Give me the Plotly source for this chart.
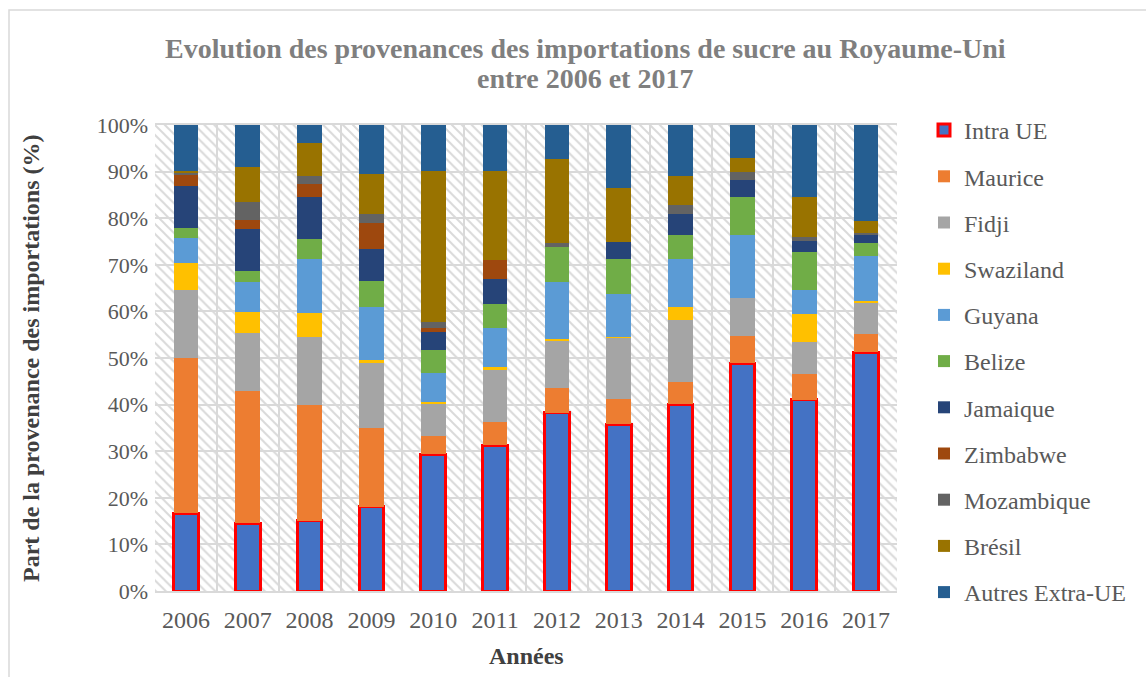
import plotly.graph_objects as go

years = ["2006", "2007", "2008", "2009", "2010", "2011", "2012", "2013", "2014", "2015", "2016", "2017"]

intra_ue   = [16.7, 14.5, 15.1, 18.1, 29.3, 31.3, 38.3, 35.8, 40.1, 48.9, 41.0, 51.2]
maurice    = [33.3, 28.5, 24.8, 16.9, 4.0, 5.0, 5.3, 5.3, 4.8, 5.8, 5.6, 4.0]
fidji      = [14.6, 12.4, 14.7, 14.1, 7.0, 11.3, 10.0, 13.2, 13.3, 8.2, 6.8, 6.6]
swaziland  = [5.7, 4.5, 5.0, 0.4, 0.3, 0.4, 0.5, 0.2, 2.7, 0.0, 6.0, 0.5]
guyana     = [5.5, 6.4, 11.6, 11.5, 6.1, 8.4, 12.3, 9.2, 10.4, 13.6, 5.3, 9.5]
belize     = [2.0, 2.3, 4.4, 5.5, 5.1, 5.1, 7.4, 7.5, 5.1, 8.1, 8.0, 2.8]
jamaique   = [9.1, 9.0, 9.0, 6.9, 3.8, 5.5, 0.0, 3.7, 4.4, 3.7, 2.5, 1.9]
zimbabwe   = [2.4, 2.0, 2.7, 5.5, 0.8, 4.1, 0.0, 0.0, 0.0, 0.0, 0.0, 0.0]
mozambique = [0.4, 3.8, 1.8, 1.9, 1.4, 0.0, 0.9, 0.0, 2.1, 1.6, 0.8, 0.3]
bresil     = [0.5, 7.5, 7.0, 8.7, 32.4, 19.1, 18.1, 11.5, 6.1, 3.0, 8.6, 2.5]
autres     = [9.8, 9.2, 3.9, 10.5, 9.8, 9.8, 7.2, 13.6, 11.0, 7.1, 15.4, 21.0]

title_lines = ["Evolution des provenances des importations de sucre au Royaume-Uni",
               "entre 2006 et 2017"]
x_title = "Années"
y_title = "Part de la provenance des importations (%)"

series = [
    ("Intra UE", intra_ue, "#4472C4"),
    ("Maurice", maurice, "#ED7D31"),
    ("Fidji", fidji, "#A5A5A5"),
    ("Swaziland", swaziland, "#FFC000"),
    ("Guyana", guyana, "#5B9BD5"),
    ("Belize", belize, "#70AD47"),
    ("Jamaique", jamaique, "#264478"),
    ("Zimbabwe", zimbabwe, "#9E480E"),
    ("Mozambique", mozambique, "#636363"),
    ("Brésil", bresil, "#997300"),
    ("Autres Extra-UE", autres, "#255E91"),
]

FONT = "Liberation Serif, Times New Roman, serif"

# plot area in pixels
L, R, T, B = 155, 897, 125, 591
PW, PH = R - L, B - T


def px_x(p):
    return (p - L) / PW


def px_y(p):
    return (B - p) / PH


fig = go.Figure()

# hatched plot-area background (one full-width cell per category)
fig.add_trace(go.Bar(
    x=years, y=[100] * len(years), width=1, xaxis="x", yaxis="y",
    marker=dict(color="rgba(0,0,0,0)", line=dict(width=0),
                pattern=dict(shape="\\", fgcolor="#d9d9d9", bgcolor="rgba(0,0,0,0)",
                             size=7, solidity=0.28, fillmode="replace")),
    showlegend=False, hoverinfo="skip",
))

for name, vals, col in series:
    line = dict(color="#FF0000", width=3) if name == "Intra UE" else dict(width=0)
    fig.add_trace(go.Bar(
        x=years, y=vals, name=name, xaxis="x2", yaxis="y",
        marker=dict(color=col, line=line), legendgroup=name,
    ))

annotations = [
    dict(text="<b>" + title_lines[0] + "</b>", x=px_x(585), y=px_y(48), xref="paper", yref="paper",
         showarrow=False, xanchor="center", yanchor="middle",
         font=dict(family=FONT, size=28, color="#7f7f7f")),
    dict(text="<b>" + title_lines[1] + "</b>", x=px_x(585), y=px_y(78), xref="paper", yref="paper",
         showarrow=False, xanchor="center", yanchor="middle",
         font=dict(family=FONT, size=28, color="#7f7f7f")),
    dict(text="<b>" + x_title + "</b>", x=0.5, y=px_y(656), xref="paper", yref="paper",
         showarrow=False, xanchor="center", yanchor="middle",
         font=dict(family=FONT, size=24, color="#404040")),
    dict(text="<b>" + y_title + "</b>", x=px_x(31), y=0.5, xref="paper", yref="paper",
         showarrow=False, xanchor="center", yanchor="middle", textangle=-90,
         font=dict(family=FONT, size=24, color="#404040")),
]

fig.update_layout(
    width=1146, height=677,
    margin=dict(l=L, r=1146 - R, t=T, b=677 - B, autoexpand=False),
    paper_bgcolor="white", plot_bgcolor="white",
    barmode="stack", bargap=0.6,
    font=dict(family=FONT, size=22, color="#595959"),
    xaxis=dict(
        type="category", categoryorder="array", categoryarray=years,
        range=[-0.5, 11.5], tickson="boundaries", ticks="",
        showgrid=True, gridcolor="#d9d9d9", gridwidth=2,
        showline=True, linecolor="#d9d9d9", linewidth=2, mirror=True,
        tickfont=dict(size=24, color="#595959"), ticklabelstandoff=6,
    ),
    xaxis2=dict(
        type="category", categoryorder="array", categoryarray=years,
        range=[-0.5, 11.5], overlaying="x", showgrid=False, showticklabels=False,
        ticks="", zeroline=False,
    ),
    yaxis=dict(
        range=[0, 100], dtick=10, ticksuffix="%",
        showgrid=True, gridcolor="#d9d9d9", gridwidth=2, zeroline=False,
        tickfont=dict(size=22, color="#595959"), ticks="", ticklen=0,
        ticklabelstandoff=6,
    ),
    legend=dict(
        x=px_x(924), y=px_y(108), xanchor="left", yanchor="top",
        traceorder="grouped", tracegroupgap=12, maxheight=640,
        font=dict(size=24, color="#595959"), itemwidth=30,
    ),
    annotations=annotations,
    shapes=[dict(type="rect", xref="paper", yref="paper",
                 x0=px_x(9), x1=px_x(1160),
                 y0=px_y(690), y1=px_y(10),
                 line=dict(color="#d9d9d9", width=1.5), fillcolor="rgba(0,0,0,0)",
                 layer="below")],
)

fig.write_html("out.html", config={"displayModeBar": False},
               post_script="document.body.style.margin='0';")
